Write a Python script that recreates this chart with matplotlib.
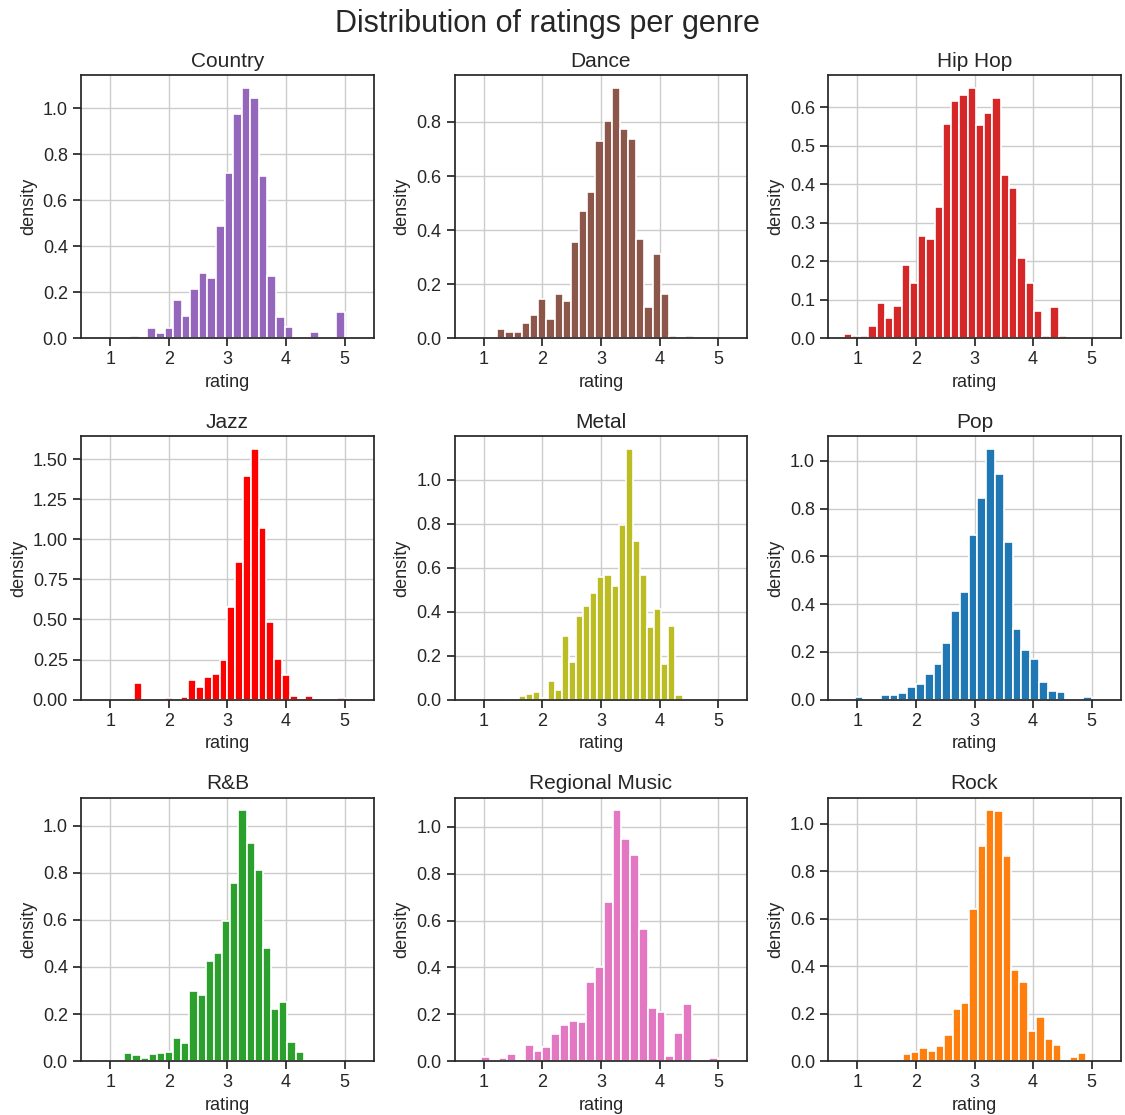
import numpy as np
import matplotlib
matplotlib.use("Agg")
import matplotlib.pyplot as plt
import seaborn as sns

# genres, colours and histogram heights (density, 30 bins per genre)
genres = ["Country", "Dance", "Hip Hop", "Jazz", "Metal", "Pop",
          "R&B", "Regional Music", "Rock"]
colors = ["tab:purple", "tab:brown", "tab:red", "red", "tab:olive",
          "tab:blue", "tab:green", "tab:pink", "tab:orange"]

# lowest / highest rating per genre (the bin range)
rating_min = [0.61, 0.81, 0.764, 1.0, 1.36, 0.5, 0.82, 0.5, 0.633]
rating_max = [5.0, 5.0, 5.0, 5.0, 5.0, 5.0, 5.0, 5.0, 4.907]

country = [0, 0, 0, 0, 0.007, 0.009, 0, 0.044, 0.021, 0.044, 0.167, 0.098,
           0.215, 0.283, 0.263, 0.487, 0.721, 0.977, 1.091, 1.047, 0.706,
           0.272, 0.091, 0.047, 0, 0, 0.028, 0, 0, 0.116]
dance = [0, 0, 0, 0.034, 0.022, 0.024, 0.056, 0.086, 0.145, 0.071, 0.163,
         0.136, 0.356, 0.469, 0.541, 0.729, 0.803, 0.927, 0.775, 0.736,
         0.366, 0.1145, 0.311, 0.162, 0.009, 0, 0.009, 0, 0, 0]
hiphop = [0.011, 0.006, 0.006, 0.032, 0.091, 0.053, 0.084, 0.19, 0.144,
          0.265, 0.257, 0.341, 0.556, 0.616, 0.632, 0.651, 0.553, 0.586,
          0.625, 0.423, 0.391, 0.2095, 0.1435, 0.07, 0.006, 0.081, 0.006,
          0, 0, 0]
jazz = [0, 0, 0, 0.103, 0, 0, 0, 0.013, 0, 0.0155, 0.12, 0.076, 0.139,
        0.16, 0.249, 0.58, 0.86, 1.394, 1.563, 1.073, 0.483, 0.256,
        0.155, 0.024, 0, 0.02, 0, 0, 0, 0.009]
metal = [0, 0, 0.016, 0.026, 0.034, 0.006, 0.083, 0.046, 0.287, 0.171,
         0.379, 0.427, 0.484, 0.557, 0.566, 0.517, 0.793, 1.139, 0.723,
         0.568, 0.33, 0.411, 0.164, 0.333, 0.019, 0, 0, 0, 0, 0]
pop = [0, 0, 0, 0.009, 0, 0, 0.02, 0.019, 0.027, 0.051, 0.065, 0.107,
       0.148, 0.239, 0.371, 0.451, 0.689, 0.845, 1.05, 0.946, 0.66,
       0.295, 0.2095, 0.17, 0.072, 0.036, 0.033, 0, 0, 0.013]
rnb = [0.006, 0, 0, 0.033, 0.025, 0.015, 0.03, 0.033, 0.039, 0.096,
       0.075, 0.298, 0.281, 0.427, 0.459, 0.597, 0.756, 1.066, 0.928,
       0.813, 0.481, 0.22, 0.25, 0.079, 0.039, 0.006, 0, 0, 0, 0]
regional = [0, 0, 0, 0.018, 0, 0.011, 0.031, 0, 0.069, 0.043, 0.059,
            0.115, 0.153, 0.173, 0.168, 0.339, 0.402, 0.679, 1.071, 0.949,
            0.879, 0.562, 0.225, 0.211, 0.023, 0.119, 0.242, 0, 0, 0.012]
rock = [0, 0, 0, 0, 0, 0, 0, 0, 0.029, 0.04, 0.056, 0.044, 0.063, 0.109,
        0.221, 0.245, 0.639, 0.906, 1.057, 1.054, 0.864, 0.385, 0.335,
        0.125, 0.184, 0.092, 0.068, 0, 0.015, 0.032]

heights = [country, dance, hiphop, jazz, metal, pop, rnb, regional, rock]

sns.set_theme(style="ticks", rc={"axes.grid": True})
plt.rcParams["font.family"] = ["Liberation Sans", "DejaVu Sans"]

fig, axes = plt.subplots(3, 3, figsize=(11.25, 11.15), dpi=100)
fig.subplots_adjust(left=0.072, right=0.9964, top=0.9327, bottom=0.0484,
                    wspace=0.276, hspace=0.373)

for ax, genre, color, lo, hi, h in zip(axes.flat, genres, colors,
                                       rating_min, rating_max, heights):
    edges = np.linspace(lo, hi, len(h) + 1)
    ax.hist(edges[:-1], bins=edges, weights=h, color=color,
            edgecolor="white", linewidth=1.2)
    ax.set_xlim(0.5, 5.5)
    ax.set_xticks([1, 2, 3, 4, 5])
    ax.set_title(genre, fontsize=15)
    ax.set_xlabel("rating", fontsize=13)
    ax.set_ylabel("density", fontsize=13)
    ax.tick_params(labelsize=13)
    for s in ax.spines.values():
        s.set_visible(True)

fig.suptitle("Distribution of ratings per genre", fontsize=22,
             x=0.487, y=0.992)
fig.savefig("out.png", dpi=100)
